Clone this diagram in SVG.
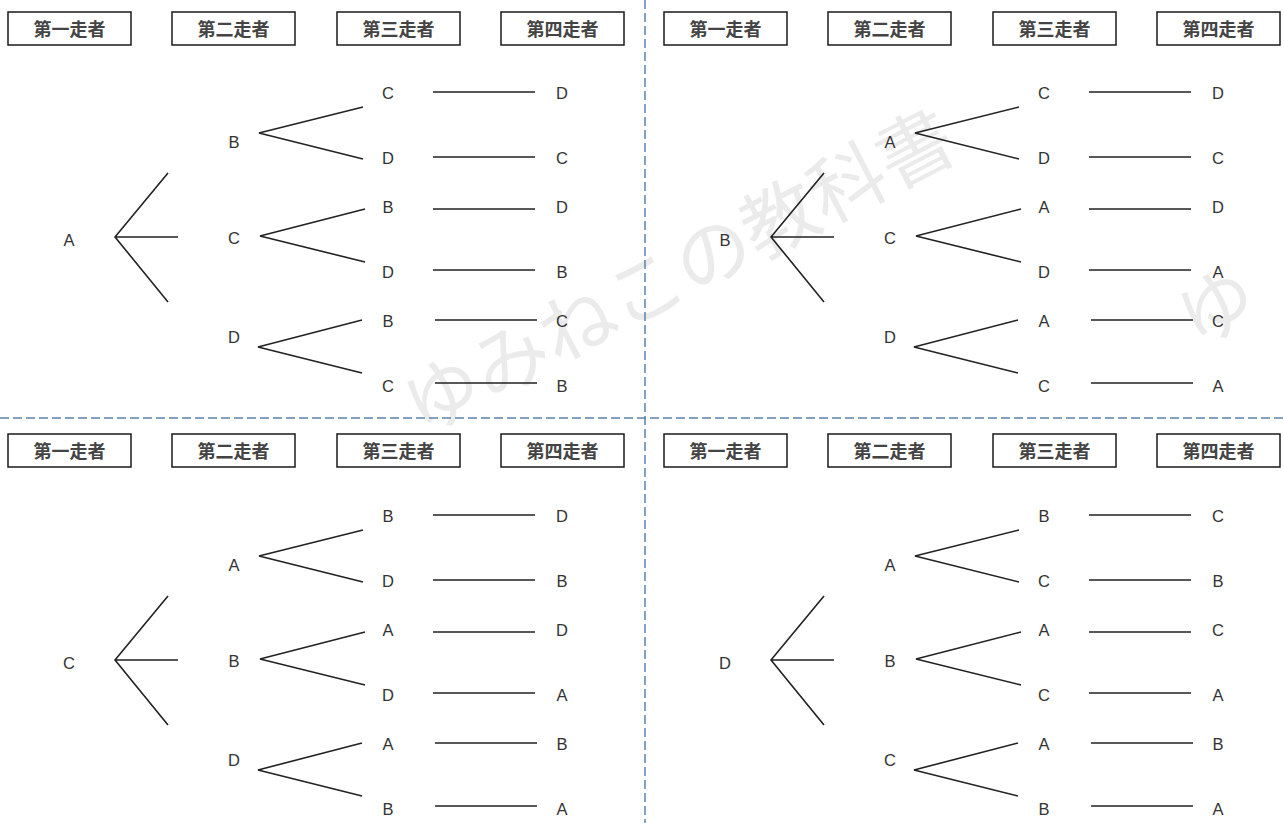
<svg xmlns="http://www.w3.org/2000/svg" width="1284" height="823" viewBox="0 0 1284 823">
<style>
.bg{fill:#ffffff}
.wm{font-family:"Noto Sans CJK JP","Noto Sans CJK SC",sans-serif;font-size:76px;fill:#ebebeb}
.box rect{fill:#ffffff;stroke:#1a1a1a;stroke-width:1.5}
.box text{font-family:"Noto Sans CJK JP","Noto Sans CJK SC",sans-serif;font-size:18px;font-weight:bold;fill:#444;text-anchor:middle}
.lbl{font-family:"Liberation Sans",Arial,sans-serif;font-size:16.5px;fill:#333;text-anchor:middle}
.con path{fill:none;stroke:#222;stroke-width:1.6;stroke-linejoin:miter}
.sep{stroke:#5b82ad;stroke-width:1.5;stroke-dasharray:9 4;fill:none}
</style>
<rect class="bg" x="0" y="0" width="1284" height="823"/>
<g id="watermark">
<text class="wm" x="678" y="299" text-anchor="middle" transform="rotate(-27.5 678 270)">ゆみねこの教科書</text>
<text class="wm" x="1216" y="334" text-anchor="middle" transform="rotate(-27.5 1216 305)">ゆ</text>
</g>
<g id="separators">
<line class="sep" x1="645" y1="0" x2="645" y2="823"/>
<line class="sep" x1="0" y1="418" x2="1284" y2="418"/>
</g>
<g id="connectors" class="con">
<g id="con-q1">
<path d="M168,173 L115,237 L168,302 M115,237 L178,237"/>
<path d="M363,107 L259,133 L363,159"/>
<path d="M365,209 L260,236 L365,262"/>
<path d="M362,320 L258,347 L362,373"/>
<path d="M433,92 H535 M433,157 H535 M433,209 H535 M433,270 H535 M435,320 H537 M435,383 H537"/>
</g>
<g id="con-q2" transform="translate(656,0)">
<path d="M168,173 L115,237 L168,302 M115,237 L178,237"/>
<path d="M363,107 L259,133 L363,159"/>
<path d="M365,209 L260,236 L365,262"/>
<path d="M362,320 L258,347 L362,373"/>
<path d="M433,92 H535 M433,157 H535 M433,209 H535 M433,270 H535 M435,320 H537 M435,383 H537"/>
</g>
<g id="con-q3" transform="translate(0,423)">
<path d="M168,173 L115,237 L168,302 M115,237 L178,237"/>
<path d="M363,107 L259,133 L363,159"/>
<path d="M365,209 L260,236 L365,262"/>
<path d="M362,320 L258,347 L362,373"/>
<path d="M433,92 H535 M433,157 H535 M433,209 H535 M433,270 H535 M435,320 H537 M435,383 H537"/>
</g>
<g id="con-q4" transform="translate(656,423)">
<path d="M168,173 L115,237 L168,302 M115,237 L178,237"/>
<path d="M363,107 L259,133 L363,159"/>
<path d="M365,209 L260,236 L365,262"/>
<path d="M362,320 L258,347 L362,373"/>
<path d="M433,92 H535 M433,157 H535 M433,209 H535 M433,270 H535 M435,320 H537 M435,383 H537"/>
</g>
</g>

<g id="q1">
<g id="q1-h1" class="box"><rect x="8" y="12" width="123" height="33"/><text x="69.5" y="35.5">第一走者</text></g>
<g id="q1-h2" class="box"><rect x="172" y="12" width="123" height="33"/><text x="233.5" y="35.5">第二走者</text></g>
<g id="q1-h3" class="box"><rect x="337" y="12" width="123" height="33"/><text x="398.5" y="35.5">第三走者</text></g>
<g id="q1-h4" class="box"><rect x="501" y="12" width="123" height="33"/><text x="562.5" y="35.5">第四走者</text></g>
<g id="q1-r"><text class="lbl" x="69" y="245.5">A</text></g>
<g id="q1-s1"><text class="lbl" x="234" y="148">B</text></g>
<g id="q1-s2"><text class="lbl" x="234" y="244">C</text></g>
<g id="q1-s3"><text class="lbl" x="234" y="343">D</text></g>
<g id="q1-t1"><text class="lbl" x="388" y="99">C</text></g>
<g id="q1-t2"><text class="lbl" x="388" y="164">D</text></g>
<g id="q1-t3"><text class="lbl" x="388" y="213">B</text></g>
<g id="q1-t4"><text class="lbl" x="388" y="278">D</text></g>
<g id="q1-t5"><text class="lbl" x="388" y="327">B</text></g>
<g id="q1-t6"><text class="lbl" x="388" y="392">C</text></g>
<g id="q1-f1"><text class="lbl" x="562" y="99">D</text></g>
<g id="q1-f2"><text class="lbl" x="562" y="164">C</text></g>
<g id="q1-f3"><text class="lbl" x="562" y="213">D</text></g>
<g id="q1-f4"><text class="lbl" x="562" y="278">B</text></g>
<g id="q1-f5"><text class="lbl" x="562" y="327">C</text></g>
<g id="q1-f6"><text class="lbl" x="562" y="392">B</text></g>
</g>

<g id="q2" transform="translate(656,0)">
<g id="q2-h1" class="box"><rect x="8" y="12" width="123" height="33"/><text x="69.5" y="35.5">第一走者</text></g>
<g id="q2-h2" class="box"><rect x="172" y="12" width="123" height="33"/><text x="233.5" y="35.5">第二走者</text></g>
<g id="q2-h3" class="box"><rect x="337" y="12" width="123" height="33"/><text x="398.5" y="35.5">第三走者</text></g>
<g id="q2-h4" class="box"><rect x="501" y="12" width="123" height="33"/><text x="562.5" y="35.5">第四走者</text></g>
<g id="q2-r"><text class="lbl" x="69" y="245.5">B</text></g>
<g id="q2-s1"><text class="lbl" x="234" y="148">A</text></g>
<g id="q2-s2"><text class="lbl" x="234" y="244">C</text></g>
<g id="q2-s3"><text class="lbl" x="234" y="343">D</text></g>
<g id="q2-t1"><text class="lbl" x="388" y="99">C</text></g>
<g id="q2-t2"><text class="lbl" x="388" y="164">D</text></g>
<g id="q2-t3"><text class="lbl" x="388" y="213">A</text></g>
<g id="q2-t4"><text class="lbl" x="388" y="278">D</text></g>
<g id="q2-t5"><text class="lbl" x="388" y="327">A</text></g>
<g id="q2-t6"><text class="lbl" x="388" y="392">C</text></g>
<g id="q2-f1"><text class="lbl" x="562" y="99">D</text></g>
<g id="q2-f2"><text class="lbl" x="562" y="164">C</text></g>
<g id="q2-f3"><text class="lbl" x="562" y="213">D</text></g>
<g id="q2-f4"><text class="lbl" x="562" y="278">A</text></g>
<g id="q2-f5"><text class="lbl" x="562" y="327">C</text></g>
<g id="q2-f6"><text class="lbl" x="562" y="392">A</text></g>
</g>

<g id="q3" transform="translate(0,423)">
<g id="q3-h1" class="box"><rect x="8" y="11" width="123" height="33"/><text x="69.5" y="34.5">第一走者</text></g>
<g id="q3-h2" class="box"><rect x="172" y="11" width="123" height="33"/><text x="233.5" y="34.5">第二走者</text></g>
<g id="q3-h3" class="box"><rect x="337" y="11" width="123" height="33"/><text x="398.5" y="34.5">第三走者</text></g>
<g id="q3-h4" class="box"><rect x="501" y="11" width="123" height="33"/><text x="562.5" y="34.5">第四走者</text></g>
<g id="q3-r"><text class="lbl" x="69" y="245.5">C</text></g>
<g id="q3-s1"><text class="lbl" x="234" y="148">A</text></g>
<g id="q3-s2"><text class="lbl" x="234" y="244">B</text></g>
<g id="q3-s3"><text class="lbl" x="234" y="343">D</text></g>
<g id="q3-t1"><text class="lbl" x="388" y="99">B</text></g>
<g id="q3-t2"><text class="lbl" x="388" y="164">D</text></g>
<g id="q3-t3"><text class="lbl" x="388" y="213">A</text></g>
<g id="q3-t4"><text class="lbl" x="388" y="278">D</text></g>
<g id="q3-t5"><text class="lbl" x="388" y="327">A</text></g>
<g id="q3-t6"><text class="lbl" x="388" y="392">B</text></g>
<g id="q3-f1"><text class="lbl" x="562" y="99">D</text></g>
<g id="q3-f2"><text class="lbl" x="562" y="164">B</text></g>
<g id="q3-f3"><text class="lbl" x="562" y="213">D</text></g>
<g id="q3-f4"><text class="lbl" x="562" y="278">A</text></g>
<g id="q3-f5"><text class="lbl" x="562" y="327">B</text></g>
<g id="q3-f6"><text class="lbl" x="562" y="392">A</text></g>
</g>

<g id="q4" transform="translate(656,423)">
<g id="q4-h1" class="box"><rect x="8" y="11" width="123" height="33"/><text x="69.5" y="34.5">第一走者</text></g>
<g id="q4-h2" class="box"><rect x="172" y="11" width="123" height="33"/><text x="233.5" y="34.5">第二走者</text></g>
<g id="q4-h3" class="box"><rect x="337" y="11" width="123" height="33"/><text x="398.5" y="34.5">第三走者</text></g>
<g id="q4-h4" class="box"><rect x="501" y="11" width="123" height="33"/><text x="562.5" y="34.5">第四走者</text></g>
<g id="q4-r"><text class="lbl" x="69" y="245.5">D</text></g>
<g id="q4-s1"><text class="lbl" x="234" y="148">A</text></g>
<g id="q4-s2"><text class="lbl" x="234" y="244">B</text></g>
<g id="q4-s3"><text class="lbl" x="234" y="343">C</text></g>
<g id="q4-t1"><text class="lbl" x="388" y="99">B</text></g>
<g id="q4-t2"><text class="lbl" x="388" y="164">C</text></g>
<g id="q4-t3"><text class="lbl" x="388" y="213">A</text></g>
<g id="q4-t4"><text class="lbl" x="388" y="278">C</text></g>
<g id="q4-t5"><text class="lbl" x="388" y="327">A</text></g>
<g id="q4-t6"><text class="lbl" x="388" y="392">B</text></g>
<g id="q4-f1"><text class="lbl" x="562" y="99">C</text></g>
<g id="q4-f2"><text class="lbl" x="562" y="164">B</text></g>
<g id="q4-f3"><text class="lbl" x="562" y="213">C</text></g>
<g id="q4-f4"><text class="lbl" x="562" y="278">A</text></g>
<g id="q4-f5"><text class="lbl" x="562" y="327">B</text></g>
<g id="q4-f6"><text class="lbl" x="562" y="392">A</text></g>
</g>
</svg>
